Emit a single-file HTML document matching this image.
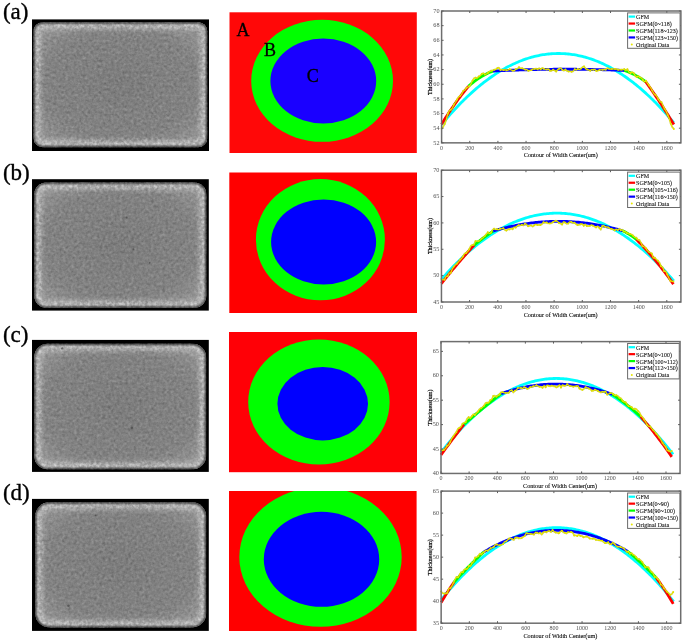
<!DOCTYPE html>
<html><head><meta charset="utf-8"><title>Figure</title>
<style>html,body{margin:0;padding:0;background:#fff;width:685px;height:643px;overflow:hidden}svg{display:block}</style>
</head><body>
<svg width="685" height="643" viewBox="0 0 685 643" font-family='"Liberation Serif", "Times New Roman", serif'>
<defs>
<radialGradient id="gfill" cx="0.5" cy="0.5" r="0.6">
<stop offset="0" stop-color="#7d7d7d"/><stop offset="0.75" stop-color="#858585"/><stop offset="1" stop-color="#979797"/>
</radialGradient>
<filter id="pblur" x="-2%" y="-2%" width="104%" height="104%" color-interpolation-filters="sRGB"><feGaussianBlur stdDeviation="0.35"/></filter>
<filter id="gsoft" x="-3%" y="-3%" width="106%" height="106%"><feGaussianBlur stdDeviation="0.6"/></filter>
<filter id="rimf0" x="-5%" y="-5%" width="110%" height="110%" color-interpolation-filters="sRGB"><feGaussianBlur in="SourceGraphic" stdDeviation="3" result="b"/><feTurbulence type="fractalNoise" baseFrequency="0.33" numOctaves="2" seed="21" result="n"/><feColorMatrix in="n" type="matrix" values="0 0 0 0 1  0 0 0 0 1  0 0 0 0 1  2.2 0 0 0 -0.75" result="nm"/><feComposite in="nm" in2="b" operator="in"/></filter>
<filter id="rimf1" x="-5%" y="-5%" width="110%" height="110%" color-interpolation-filters="sRGB"><feGaussianBlur in="SourceGraphic" stdDeviation="3" result="b"/><feTurbulence type="fractalNoise" baseFrequency="0.33" numOctaves="2" seed="33" result="n"/><feColorMatrix in="n" type="matrix" values="0 0 0 0 1  0 0 0 0 1  0 0 0 0 1  2.2 0 0 0 -0.75" result="nm"/><feComposite in="nm" in2="b" operator="in"/></filter>
<filter id="blur1" x="-5%" y="-5%" width="110%" height="110%"><feGaussianBlur stdDeviation="1.1"/></filter>
<filter id="soft" x="-5%" y="-5%" width="110%" height="110%"><feGaussianBlur stdDeviation="0.3"/></filter>
<filter id="blur3" x="-10%" y="-10%" width="120%" height="120%"><feGaussianBlur stdDeviation="2.6"/></filter>
<filter id="noise0" x="0" y="0" width="100%" height="100%" color-interpolation-filters="sRGB"><feTurbulence type="fractalNoise" baseFrequency="0.35" numOctaves="2" seed="4"/><feColorMatrix type="matrix" values="0.33 0.33 0.33 0 0  0.33 0.33 0.33 0 0  0.33 0.33 0.33 0 0  0 0 0 0 1"/><feComponentTransfer><feFuncR type="linear" slope="2.0" intercept="-0.5"/><feFuncG type="linear" slope="2.0" intercept="-0.5"/><feFuncB type="linear" slope="2.0" intercept="-0.5"/></feComponentTransfer><feGaussianBlur stdDeviation="0.3"/></filter>
<filter id="noise1" x="0" y="0" width="100%" height="100%" color-interpolation-filters="sRGB"><feTurbulence type="fractalNoise" baseFrequency="0.35" numOctaves="2" seed="9"/><feColorMatrix type="matrix" values="0.33 0.33 0.33 0 0  0.33 0.33 0.33 0 0  0.33 0.33 0.33 0 0  0 0 0 0 1"/><feComponentTransfer><feFuncR type="linear" slope="2.0" intercept="-0.5"/><feFuncG type="linear" slope="2.0" intercept="-0.5"/><feFuncB type="linear" slope="2.0" intercept="-0.5"/></feComponentTransfer><feGaussianBlur stdDeviation="0.3"/></filter>
</defs>
<rect width="685" height="643" fill="#fff"/>
<text x="2.9" y="19.00" font-size="23" stroke="#000" stroke-width="0.35">(a)</text>
<clipPath id="cp0"><rect x="33.60" y="22.20" width="173.60" height="125.00" rx="9.0"/></clipPath><rect x="32.00" y="19.40" width="177.00" height="131.60" fill="#000"/>
<g filter="url(#gsoft)"><g clip-path="url(#cp0)">
<rect x="33.60" y="22.20" width="173.60" height="125.00" fill="url(#gfill)"/>
<rect x="33.60" y="22.20" width="173.60" height="125.00" fill="#808080" filter="url(#noise0)" opacity="0.17"/>
<rect x="33.60" y="22.20" width="173.60" height="125.00" rx="9.0" fill="none" stroke="#c8c8c8" stroke-width="12" filter="url(#blur3)" opacity="0.45"/>
<rect x="33.60" y="22.20" width="173.60" height="125.00" rx="9.0" fill="none" stroke="#fff" stroke-width="14" filter="url(#rimf0)" opacity="0.6"/>
<rect x="33.60" y="22.20" width="173.60" height="125.00" rx="9.0" fill="none" stroke="#000" stroke-width="2.4" filter="url(#blur1)" opacity="0.8"/>
</g></g>
<g filter="url(#pblur)"><clipPath id="rca"><rect x="229.50" y="12.30" width="187.30" height="140.70"/></clipPath>
<rect x="229.50" y="12.30" width="187.30" height="140.70" fill="#ff0808"/>
<g clip-path="url(#rca)">
<ellipse cx="322.10" cy="80.80" rx="70.90" ry="61.00" fill="#00ff00"/>
<ellipse cx="323.30" cy="81.00" rx="52.90" ry="42.50" fill="#1a00ff"/>
</g></g>
<g filter="url(#pblur)"><polyline points="441.60,124.54 443.01,122.84 444.42,121.15 445.82,119.49 447.23,117.85 448.64,116.23 450.05,114.64 451.45,113.06 452.86,111.50 454.27,109.96 455.68,108.45 457.08,106.95 458.49,105.48 459.90,104.02 461.31,102.59 462.71,101.18 464.12,99.78 465.53,98.41 466.94,97.06 468.35,95.73 469.75,94.42 471.16,93.13 472.57,91.86 473.98,90.62 475.38,89.39 476.79,88.18 478.20,86.99 479.61,85.83 481.01,84.68 482.42,83.56 483.83,82.46 485.24,81.37 486.64,80.31 488.05,79.27 489.46,78.25 490.87,77.25 492.28,76.27 493.68,75.31 495.09,74.37 496.50,73.45 497.91,72.56 499.31,71.68 500.72,70.82 502.13,69.99 503.54,69.17 504.94,68.38 506.35,67.60 507.76,66.85 509.17,66.12 510.57,65.41 511.98,64.72 513.39,64.05 514.80,63.40 516.21,62.77 517.61,62.16 519.02,61.57 520.43,61.00 521.84,60.46 523.24,59.93 524.65,59.43 526.06,58.94 527.47,58.48 528.87,58.03 530.28,57.61 531.69,57.21 533.10,56.83 534.50,56.47 535.91,56.13 537.32,55.81 538.73,55.51 540.14,55.23 541.54,54.97 542.95,54.73 544.36,54.52 545.77,54.32 547.17,54.15 548.58,53.99 549.99,53.86 551.40,53.74 552.80,53.65 554.21,53.58 555.62,53.53 557.03,53.50 558.43,53.48 559.84,53.50 561.25,53.53 562.66,53.58 564.07,53.65 565.47,53.74 566.88,53.86 568.29,53.99 569.70,54.15 571.10,54.32 572.51,54.52 573.92,54.73 575.33,54.97 576.73,55.23 578.14,55.51 579.55,55.81 580.96,56.13 582.36,56.47 583.77,56.83 585.18,57.21 586.59,57.61 588.00,58.03 589.40,58.48 590.81,58.94 592.22,59.43 593.63,59.93 595.03,60.46 596.44,61.00 597.85,61.57 599.26,62.16 600.66,62.77 602.07,63.40 603.48,64.05 604.89,64.72 606.29,65.41 607.70,66.12 609.11,66.85 610.52,67.60 611.93,68.38 613.33,69.17 614.74,69.99 616.15,70.82 617.56,71.68 618.96,72.56 620.37,73.45 621.78,74.37 623.19,75.31 624.59,76.27 626.00,77.25 627.41,78.25 628.82,79.27 630.22,80.31 631.63,81.37 633.04,82.46 634.45,83.56 635.86,84.68 637.26,85.83 638.67,86.99 640.08,88.18 641.49,89.39 642.89,90.62 644.30,91.86 645.71,93.13 647.12,94.42 648.52,95.73 649.93,97.06 651.34,98.41 652.75,99.78 654.15,101.18 655.56,102.59 656.97,104.02 658.38,105.48 659.79,106.95 661.19,108.45 662.60,109.96 664.01,111.50 665.42,113.06 666.82,114.64 668.23,116.23 669.64,117.85 671.05,119.49 672.45,121.15 673.86,122.84" fill="none" stroke="#00ffff" stroke-width="2.8"/>
<polyline points="441.60,124.17 443.02,121.87 444.44,119.61 445.87,117.38 447.29,115.18 448.71,113.01 450.13,110.88 451.56,108.77 452.98,106.70 454.40,104.67 455.82,102.66 457.25,100.69 458.67,98.75 460.09,96.84 461.51,94.97 462.94,93.13 464.36,91.32 465.78,89.54 467.20,87.79 468.63,86.08" fill="none" stroke="#ff0000" stroke-width="2.8"/>
<polyline points="468.63,86.08 470.06,84.86 471.49,83.68 472.92,82.55 474.36,81.46 475.79,80.40 477.22,79.39 478.65,78.43 480.09,77.50 481.52,76.62 482.95,75.78 484.38,74.98 485.82,74.22 487.25,73.51 488.68,72.83 490.11,72.20 491.55,71.61 492.98,71.07" fill="none" stroke="#00ff00" stroke-width="2.8"/>
<polyline points="492.98,71.07 494.39,70.99 495.80,70.92 497.21,70.85 498.62,70.79 500.03,70.72 501.44,70.66 502.85,70.59 504.26,70.53 505.68,70.47 507.09,70.41 508.50,70.35 509.91,70.30 511.32,70.24 512.73,70.19 514.14,70.14 515.55,70.09 516.96,70.04 518.37,69.99 519.78,69.94 521.19,69.90 522.60,69.86 524.01,69.81 525.42,69.77 526.84,69.74 528.25,69.70 529.66,69.66 531.07,69.63 532.48,69.59 533.89,69.56 535.30,69.53 536.71,69.50 538.12,69.47 539.53,69.45 540.94,69.42 542.35,69.40 543.76,69.38 545.17,69.36 546.58,69.34 548.00,69.32 549.41,69.30 550.82,69.29 552.23,69.28 553.64,69.26 555.05,69.25 556.46,69.24 557.87,69.24 559.28,69.23 560.69,69.23 562.10,69.22 563.51,69.22 564.92,69.22 566.33,69.22 567.74,69.22 569.16,69.23 570.57,69.23 571.98,69.24 573.39,69.25 574.80,69.25 576.21,69.27 577.62,69.28 579.03,69.29 580.44,69.31 581.85,69.32 583.26,69.34 584.67,69.36 586.08,69.38 587.49,69.40 588.90,69.43 590.32,69.45 591.73,69.48 593.14,69.51 594.55,69.54 595.96,69.57 597.37,69.60 598.78,69.63 600.19,69.67 601.60,69.70 603.01,69.74 604.42,69.78 605.83,69.82 607.24,69.86 608.65,69.91 610.07,69.95 611.48,70.00 612.89,70.05 614.30,70.09 615.71,70.15 617.12,70.20 618.53,70.25 619.94,70.31 621.35,70.36 622.76,70.42 624.17,70.48" fill="none" stroke="#0000ff" stroke-width="2.8"/>
<polyline points="624.17,70.48 625.61,70.95 627.04,71.46 628.48,72.01 629.92,72.60 631.35,73.23 632.79,73.90 634.22,74.61 635.66,75.36 637.09,76.16 638.53,76.99 639.97,77.86 641.40,78.78 642.84,79.73 644.27,80.72 645.71,81.76" fill="none" stroke="#00ff00" stroke-width="2.8"/>
<polyline points="645.71,81.76 647.12,83.72 648.52,85.69 649.93,87.69 651.34,89.71 652.75,91.74 654.15,93.79 655.56,95.87 656.97,97.96 658.38,100.07 659.79,102.20 661.19,104.34 662.60,106.51 664.01,108.70 665.42,110.90 666.82,113.13 668.23,115.37 669.64,117.64 671.05,119.92 672.45,122.22 673.86,124.54" fill="none" stroke="#ff0000" stroke-width="2.8"/>
<polyline points="441.60,128.57 443.15,126.78 444.70,123.99 446.25,119.88 447.79,113.71 449.34,110.76 450.89,109.74 452.44,108.06 453.99,104.50 455.54,102.20 457.08,99.43 458.63,97.03 460.18,95.84 461.73,94.02 463.28,90.84 464.83,90.10 466.37,88.00 467.92,87.03 469.47,86.20 471.02,83.86 472.57,80.58 474.12,78.17 475.67,77.70 477.21,78.22 478.76,76.46 480.31,75.70 481.86,73.87 483.41,73.19 484.96,74.55 486.50,73.89 488.05,72.78 489.60,71.50 491.15,70.65 492.70,70.58 494.25,69.77 495.79,69.38 497.34,68.12 498.89,67.62 500.44,70.10 501.99,69.49 503.54,70.13 505.08,69.66 506.63,70.20 508.18,70.01 509.73,69.26 511.28,70.04 512.83,70.66 514.38,70.60 515.92,68.94 517.47,68.76 519.02,67.13 520.57,68.34 522.12,68.31 523.67,68.87 525.21,69.60 526.76,69.53 528.31,70.86 529.86,70.44 531.41,70.14 532.96,68.96 534.50,68.88 536.05,68.56 537.60,69.18 539.15,68.18 540.70,69.32 542.25,67.91 543.80,68.77 545.34,69.27 546.89,69.49 548.44,68.94 549.99,70.77 551.54,70.87 553.09,69.69 554.63,70.53 556.18,71.55 557.73,69.51 559.28,68.65 560.83,68.01 562.38,69.87 563.92,70.67 565.47,69.57 567.02,70.98 568.57,71.46 570.12,71.46 571.67,71.73 573.21,71.29 574.76,69.15 576.31,70.04 577.86,68.83 579.41,69.54 580.96,68.61 582.51,67.03 584.05,66.41 585.60,68.65 587.15,69.47 588.70,69.85 590.25,70.78 591.80,69.43 593.34,69.71 594.89,69.43 596.44,71.06 597.99,70.66 599.54,69.96 601.09,69.77 602.63,69.71 604.18,69.49 605.73,69.66 607.28,68.14 608.83,68.67 610.38,69.11 611.93,68.95 613.47,68.96 615.02,68.89 616.57,69.09 618.12,69.68 619.67,69.75 621.22,69.60 622.76,69.74 624.31,69.13 625.86,70.44 627.41,69.28 628.96,72.13 630.51,73.02 632.05,72.08 633.60,72.96 635.15,75.62 636.70,76.99 638.25,75.94 639.80,77.39 641.35,77.70 642.89,80.01 644.44,81.82 645.99,80.79 647.54,83.45 649.09,85.42 650.64,87.69 652.18,90.58 653.73,93.51 655.28,94.67 656.83,96.55 658.38,99.26 659.93,101.75 661.47,102.12 663.02,105.65 664.57,108.81 666.12,111.30 667.67,114.97 669.22,118.47 670.76,123.66 672.31,127.23 673.86,128.93" fill="none" stroke="#a0a000" stroke-width="1.8" stroke-linejoin="round" opacity="0.45"/>
<polyline points="441.60,128.57 443.15,126.78 444.70,123.99 446.25,119.88 447.79,113.71 449.34,110.76 450.89,109.74 452.44,108.06 453.99,104.50 455.54,102.20 457.08,99.43 458.63,97.03 460.18,95.84 461.73,94.02 463.28,90.84 464.83,90.10 466.37,88.00 467.92,87.03 469.47,86.20 471.02,83.86 472.57,80.58 474.12,78.17 475.67,77.70 477.21,78.22 478.76,76.46 480.31,75.70 481.86,73.87 483.41,73.19 484.96,74.55 486.50,73.89 488.05,72.78 489.60,71.50 491.15,70.65 492.70,70.58 494.25,69.77 495.79,69.38 497.34,68.12 498.89,67.62 500.44,70.10 501.99,69.49 503.54,70.13 505.08,69.66 506.63,70.20 508.18,70.01 509.73,69.26 511.28,70.04 512.83,70.66 514.38,70.60 515.92,68.94 517.47,68.76 519.02,67.13 520.57,68.34 522.12,68.31 523.67,68.87 525.21,69.60 526.76,69.53 528.31,70.86 529.86,70.44 531.41,70.14 532.96,68.96 534.50,68.88 536.05,68.56 537.60,69.18 539.15,68.18 540.70,69.32 542.25,67.91 543.80,68.77 545.34,69.27 546.89,69.49 548.44,68.94 549.99,70.77 551.54,70.87 553.09,69.69 554.63,70.53 556.18,71.55 557.73,69.51 559.28,68.65 560.83,68.01 562.38,69.87 563.92,70.67 565.47,69.57 567.02,70.98 568.57,71.46 570.12,71.46 571.67,71.73 573.21,71.29 574.76,69.15 576.31,70.04 577.86,68.83 579.41,69.54 580.96,68.61 582.51,67.03 584.05,66.41 585.60,68.65 587.15,69.47 588.70,69.85 590.25,70.78 591.80,69.43 593.34,69.71 594.89,69.43 596.44,71.06 597.99,70.66 599.54,69.96 601.09,69.77 602.63,69.71 604.18,69.49 605.73,69.66 607.28,68.14 608.83,68.67 610.38,69.11 611.93,68.95 613.47,68.96 615.02,68.89 616.57,69.09 618.12,69.68 619.67,69.75 621.22,69.60 622.76,69.74 624.31,69.13 625.86,70.44 627.41,69.28 628.96,72.13 630.51,73.02 632.05,72.08 633.60,72.96 635.15,75.62 636.70,76.99 638.25,75.94 639.80,77.39 641.35,77.70 642.89,80.01 644.44,81.82 645.99,80.79 647.54,83.45 649.09,85.42 650.64,87.69 652.18,90.58 653.73,93.51 655.28,94.67 656.83,96.55 658.38,99.26 659.93,101.75 661.47,102.12 663.02,105.65 664.57,108.81 666.12,111.30 667.67,114.97 669.22,118.47 670.76,123.66 672.31,127.23 673.86,128.93" fill="none" stroke="#e8e800" stroke-width="1.1" stroke-linejoin="round"/>
<path d="M441.60 128.57h0M444.70 123.99h0M447.79 113.71h0M450.89 109.74h0M453.99 104.50h0M457.08 99.43h0M460.18 95.84h0M463.28 90.84h0M466.37 88.00h0M469.47 86.20h0M472.57 80.58h0M475.67 77.70h0M478.76 76.46h0M481.86 73.87h0M484.96 74.55h0M488.05 72.78h0M491.15 70.65h0M494.25 69.77h0M497.34 68.12h0M500.44 70.10h0M503.54 70.13h0M506.63 70.20h0M509.73 69.26h0M512.83 70.66h0M515.92 68.94h0M519.02 67.13h0M522.12 68.31h0M525.21 69.60h0M528.31 70.86h0M531.41 70.14h0M534.50 68.88h0M537.60 69.18h0M540.70 69.32h0M543.80 68.77h0M546.89 69.49h0M549.99 70.77h0M553.09 69.69h0M556.18 71.55h0M559.28 68.65h0M562.38 69.87h0M565.47 69.57h0M568.57 71.46h0M571.67 71.73h0M574.76 69.15h0M577.86 68.83h0M580.96 68.61h0M584.05 66.41h0M587.15 69.47h0M590.25 70.78h0M593.34 69.71h0M596.44 71.06h0M599.54 69.96h0M602.63 69.71h0M605.73 69.66h0M608.83 68.67h0M611.93 68.95h0M615.02 68.89h0M618.12 69.68h0M621.22 69.60h0M624.31 69.13h0M627.41 69.28h0M630.51 73.02h0M633.60 72.96h0M636.70 76.99h0M639.80 77.39h0M642.89 80.01h0M645.99 80.79h0M649.09 85.42h0M652.18 90.58h0M655.28 94.67h0M658.38 99.26h0M661.47 102.12h0M664.57 108.81h0M667.67 114.97h0M670.76 123.66h0M673.86 128.93h0" stroke="#e0e000" stroke-width="1.9" stroke-linecap="round" fill="none"/>
<rect x="441.60" y="11.00" width="239.30" height="131.85" fill="none" stroke="#6e6e6e" stroke-width="1.5"/>
<text x="441.60" y="149.75" font-size="6" fill="#505050" text-anchor="middle">0</text>
<text x="469.75" y="149.75" font-size="6" fill="#505050" text-anchor="middle">200</text>
<text x="497.91" y="149.75" font-size="6" fill="#505050" text-anchor="middle">400</text>
<text x="526.06" y="149.75" font-size="6" fill="#505050" text-anchor="middle">600</text>
<text x="554.21" y="149.75" font-size="6" fill="#505050" text-anchor="middle">800</text>
<text x="582.36" y="149.75" font-size="6" fill="#505050" text-anchor="middle">1000</text>
<text x="610.52" y="149.75" font-size="6" fill="#505050" text-anchor="middle">1200</text>
<text x="638.67" y="149.75" font-size="6" fill="#505050" text-anchor="middle">1400</text>
<text x="666.82" y="149.75" font-size="6" fill="#505050" text-anchor="middle">1600</text>
<text x="439.50" y="144.55" font-size="6.2" fill="#505050" text-anchor="end">52</text>
<text x="439.50" y="129.90" font-size="6.2" fill="#505050" text-anchor="end">54</text>
<text x="439.50" y="115.25" font-size="6.2" fill="#505050" text-anchor="end">56</text>
<text x="439.50" y="100.60" font-size="6.2" fill="#505050" text-anchor="end">58</text>
<text x="439.50" y="85.95" font-size="6.2" fill="#505050" text-anchor="end">60</text>
<text x="439.50" y="71.30" font-size="6.2" fill="#505050" text-anchor="end">62</text>
<text x="439.50" y="56.65" font-size="6.2" fill="#505050" text-anchor="end">64</text>
<text x="439.50" y="42.00" font-size="6.2" fill="#505050" text-anchor="end">66</text>
<text x="439.50" y="27.35" font-size="6.2" fill="#505050" text-anchor="end">68</text>
<text x="439.50" y="12.70" font-size="6.2" fill="#505050" text-anchor="end">70</text>
<path d="M441.60 142.85v-2M441.60 11.00v2M469.75 142.85v-2M469.75 11.00v2M497.91 142.85v-2M497.91 11.00v2M526.06 142.85v-2M526.06 11.00v2M554.21 142.85v-2M554.21 11.00v2M582.36 142.85v-2M582.36 11.00v2M610.52 142.85v-2M610.52 11.00v2M638.67 142.85v-2M638.67 11.00v2M666.82 142.85v-2M666.82 11.00v2M441.60 142.85h2M680.90 142.85h-2M441.60 128.20h2M680.90 128.20h-2M441.60 113.55h2M680.90 113.55h-2M441.60 98.90h2M680.90 98.90h-2M441.60 84.25h2M680.90 84.25h-2M441.60 69.60h2M680.90 69.60h-2M441.60 54.95h2M680.90 54.95h-2M441.60 40.30h2M680.90 40.30h-2M441.60 25.65h2M680.90 25.65h-2M441.60 11.00h2M680.90 11.00h-2" stroke="#5e5e5e" stroke-width="1" fill="none"/>
<text x="560.75" y="157.45" font-size="7" stroke="#222" stroke-width="0.12" text-anchor="middle" textLength="74" lengthAdjust="spacingAndGlyphs">Contour of Width Center(um)</text>
<text transform="translate(431.70 76.92) rotate(-90)" font-size="6.4" stroke="#000" stroke-width="0.2" text-anchor="middle" textLength="36" lengthAdjust="spacingAndGlyphs">Thickness(um)</text>
<rect x="627.60" y="12.90" width="52.50" height="35.40" fill="#fff" stroke="#6a6a6a" stroke-width="1"/>
<line x1="628.60" y1="16.60" x2="635.10" y2="16.60" stroke="#00ffff" stroke-width="2.2"/>
<text x="636.10" y="19.00" font-size="6.8" fill="#1a1a1a" stroke="#1a1a1a" stroke-width="0.12" textLength="13.10" lengthAdjust="spacingAndGlyphs">GFM</text>
<line x1="628.60" y1="23.55" x2="635.10" y2="23.55" stroke="#ff0000" stroke-width="2.2"/>
<text x="636.10" y="25.95" font-size="6.8" fill="#1a1a1a" stroke="#1a1a1a" stroke-width="0.12" textLength="35.63" lengthAdjust="spacingAndGlyphs">SGFM(0~118)</text>
<line x1="628.60" y1="30.50" x2="635.10" y2="30.50" stroke="#00ff00" stroke-width="2.2"/>
<text x="636.10" y="32.90" font-size="6.8" fill="#1a1a1a" stroke="#1a1a1a" stroke-width="0.12" textLength="41.67" lengthAdjust="spacingAndGlyphs">SGFM(118~123)</text>
<line x1="628.60" y1="37.45" x2="635.10" y2="37.45" stroke="#0000ff" stroke-width="2.2"/>
<text x="636.10" y="39.85" font-size="6.8" fill="#1a1a1a" stroke="#1a1a1a" stroke-width="0.12" textLength="41.90" lengthAdjust="spacingAndGlyphs">SGFM(123~150)</text>
<circle cx="631.80" cy="44.40" r="1" fill="#e8e800"/>
<text x="636.10" y="46.80" font-size="6.8" fill="#1a1a1a" stroke="#1a1a1a" stroke-width="0.12" textLength="33.07" lengthAdjust="spacingAndGlyphs">Original Data</text></g>
<text x="2.9" y="179.50" font-size="23" stroke="#000" stroke-width="0.35">(b)</text>
<clipPath id="cp1"><rect x="34.30" y="182.60" width="172.00" height="125.20" rx="12.0"/></clipPath><rect x="32.00" y="179.20" width="176.80" height="131.40" fill="#000"/>
<g filter="url(#gsoft)"><g clip-path="url(#cp1)">
<rect x="34.30" y="182.60" width="172.00" height="125.20" fill="url(#gfill)"/>
<rect x="34.30" y="182.60" width="172.00" height="125.20" fill="#808080" filter="url(#noise1)" opacity="0.17"/>
<rect x="34.30" y="182.60" width="172.00" height="125.20" rx="12.0" fill="none" stroke="#c8c8c8" stroke-width="12" filter="url(#blur3)" opacity="0.45"/>
<rect x="34.30" y="182.60" width="172.00" height="125.20" rx="12.0" fill="none" stroke="#fff" stroke-width="14" filter="url(#rimf1)" opacity="0.6"/>
<rect x="34.30" y="182.60" width="172.00" height="125.20" rx="12.0" fill="none" stroke="#000" stroke-width="2.4" filter="url(#blur1)" opacity="0.8"/>
</g></g>
<g filter="url(#pblur)"><clipPath id="rcb"><rect x="229.30" y="172.50" width="187.70" height="140.50"/></clipPath>
<rect x="229.30" y="172.50" width="187.70" height="140.50" fill="#ff0000"/>
<g clip-path="url(#rcb)">
<ellipse cx="320.40" cy="239.70" rx="64.50" ry="60.60" fill="#00ff00"/>
<ellipse cx="323.60" cy="241.90" rx="52.50" ry="42.50" fill="#0000ff"/>
</g></g>
<g filter="url(#pblur)"><polyline points="441.45,279.33 442.86,277.73 444.27,276.14 445.68,274.58 447.08,273.03 448.49,271.51 449.90,270.00 451.31,268.52 452.72,267.05 454.13,265.60 455.54,264.18 456.94,262.77 458.35,261.38 459.76,260.01 461.17,258.67 462.58,257.34 463.99,256.03 465.39,254.74 466.80,253.47 468.21,252.22 469.62,250.99 471.03,249.78 472.44,248.59 473.85,247.42 475.25,246.27 476.66,245.14 478.07,244.02 479.48,242.93 480.89,241.86 482.30,240.81 483.71,239.77 485.11,238.76 486.52,237.77 487.93,236.79 489.34,235.84 490.75,234.90 492.16,233.99 493.57,233.09 494.97,232.22 496.38,231.36 497.79,230.52 499.20,229.71 500.61,228.91 502.02,228.13 503.43,227.38 504.83,226.64 506.24,225.92 507.65,225.22 509.06,224.54 510.47,223.88 511.88,223.24 513.28,222.62 514.69,222.02 516.10,221.44 517.51,220.88 518.92,220.34 520.33,219.82 521.74,219.32 523.14,218.83 524.55,218.37 525.96,217.93 527.37,217.51 528.78,217.10 530.19,216.72 531.60,216.35 533.00,216.01 534.41,215.69 535.82,215.38 537.23,215.10 538.64,214.83 540.05,214.58 541.46,214.36 542.86,214.15 544.27,213.96 545.68,213.80 547.09,213.65 548.50,213.52 549.91,213.41 551.32,213.32 552.72,213.26 554.13,213.21 555.54,213.18 556.95,213.17 558.36,213.18 559.77,213.21 561.17,213.26 562.58,213.32 563.99,213.41 565.40,213.52 566.81,213.65 568.22,213.80 569.63,213.96 571.03,214.15 572.44,214.36 573.85,214.58 575.26,214.83 576.67,215.10 578.08,215.38 579.49,215.69 580.89,216.01 582.30,216.35 583.71,216.72 585.12,217.10 586.53,217.51 587.94,217.93 589.35,218.37 590.75,218.83 592.16,219.32 593.57,219.82 594.98,220.34 596.39,220.88 597.80,221.44 599.21,222.02 600.61,222.62 602.02,223.24 603.43,223.88 604.84,224.54 606.25,225.22 607.66,225.92 609.06,226.64 610.47,227.38 611.88,228.13 613.29,228.91 614.70,229.71 616.11,230.52 617.52,231.36 618.92,232.22 620.33,233.09 621.74,233.99 623.15,234.90 624.56,235.84 625.97,236.79 627.38,237.77 628.78,238.76 630.19,239.77 631.60,240.81 633.01,241.86 634.42,242.93 635.83,244.02 637.24,245.14 638.64,246.27 640.05,247.42 641.46,248.59 642.87,249.78 644.28,250.99 645.69,252.22 647.10,253.47 648.50,254.74 649.91,256.03 651.32,257.34 652.73,258.67 654.14,260.01 655.55,261.38 656.95,262.77 658.36,264.18 659.77,265.60 661.18,267.05 662.59,268.52 664.00,270.00 665.41,271.51 666.81,273.03 668.22,274.58 669.63,276.14 671.04,277.73 672.45,279.33 673.86,280.95" fill="none" stroke="#00ffff" stroke-width="2.8"/>
<polyline points="441.45,283.55 442.88,281.75 444.30,279.96 445.73,278.18 447.16,276.41 448.58,274.65 450.01,272.91 451.44,271.18 452.87,269.46 454.29,267.75 455.72,266.05 457.15,264.37 458.57,262.69 460.00,261.03 461.43,259.38 462.85,257.75 464.28,256.12 465.71,254.50 467.13,252.90 468.56,251.31 469.99,249.73 471.41,248.16 472.84,246.61 474.27,245.06" fill="none" stroke="#ff0000" stroke-width="2.8"/>
<polyline points="474.27,245.06 475.72,243.88 477.17,242.71 478.62,241.56 480.08,240.43 481.53,239.31 482.98,238.22 484.43,237.15 485.88,236.09 487.34,235.05 488.79,234.03 490.24,233.04 491.69,232.05 493.14,231.09" fill="none" stroke="#00ff00" stroke-width="2.8"/>
<polyline points="493.14,231.09 494.57,230.67 495.99,230.26 497.41,229.86 498.83,229.46 500.26,229.08 501.68,228.70 503.10,228.34 504.52,227.98 505.95,227.64 507.37,227.30 508.79,226.97 510.21,226.65 511.64,226.34 513.06,226.04 514.48,225.75 515.90,225.47 517.32,225.20 518.75,224.93 520.17,224.68 521.59,224.43 523.01,224.20 524.44,223.97 525.86,223.76 527.28,223.55 528.70,223.35 530.13,223.16 531.55,222.98 532.97,222.81 534.39,222.65 535.82,222.50 537.24,222.36 538.66,222.22 540.08,222.10 541.51,221.99 542.93,221.88 544.35,221.79 545.77,221.70 547.20,221.62 548.62,221.55 550.04,221.50 551.46,221.45 552.89,221.41 554.31,221.38 555.73,221.35 557.15,221.34 558.58,221.34 560.00,221.34 561.42,221.36 562.84,221.39 564.27,221.42 565.69,221.46 567.11,221.52 568.53,221.58 569.96,221.65 571.38,221.73 572.80,221.82 574.22,221.92 575.65,222.03 577.07,222.15 578.49,222.27 579.91,222.41 581.34,222.56 582.76,222.71 584.18,222.88 585.60,223.05 587.03,223.23 588.45,223.42 589.87,223.63 591.29,223.84 592.72,224.06 594.14,224.29 595.56,224.53 596.98,224.77 598.41,225.03 599.83,225.30 601.25,225.57 602.67,225.86 604.09,226.15 605.52,226.46 606.94,226.77 608.36,227.09 609.78,227.42 611.21,227.77 612.63,228.12 614.05,228.48 615.47,228.84 616.90,229.22 618.32,229.61 619.74,230.01 621.16,230.41 622.59,230.83" fill="none" stroke="#0000ff" stroke-width="2.8"/>
<polyline points="622.59,230.83 624.14,231.55 625.69,232.34 627.24,233.18 628.78,234.09 630.33,235.05 631.88,236.08 633.43,237.17 634.98,238.32 636.53,239.53" fill="none" stroke="#00ff00" stroke-width="2.8"/>
<polyline points="636.53,239.53 637.95,240.96 639.37,242.42 640.79,243.90 642.21,245.41 643.63,246.93 645.05,248.48 646.47,250.05 647.89,251.64 649.31,253.26 650.72,254.89 652.14,256.55 653.56,258.23 654.98,259.93 656.40,261.66 657.82,263.40 659.24,265.17 660.66,266.96 662.08,268.78 663.50,270.61 664.92,272.47 666.34,274.35 667.76,276.25 669.18,278.17 670.60,280.12 672.02,282.09 673.43,284.08" fill="none" stroke="#ff0000" stroke-width="2.8"/>
<polyline points="441.45,279.33 443.00,279.71 444.54,279.68 446.09,276.36 447.64,276.21 449.18,273.08 450.73,272.87 452.28,268.94 453.82,266.58 455.37,264.84 456.92,263.65 458.46,261.97 460.01,259.80 461.56,258.52 463.10,256.36 464.65,253.54 466.20,252.96 467.74,251.51 469.29,249.27 470.83,245.75 472.38,245.10 473.93,244.87 475.47,241.08 477.02,241.24 478.57,241.09 480.11,240.39 481.66,238.61 483.21,237.66 484.75,235.99 486.30,234.12 487.85,232.31 489.39,233.63 490.94,232.73 492.49,229.91 494.03,228.62 495.58,229.44 497.13,229.20 498.67,229.81 500.22,228.82 501.77,228.82 503.31,228.16 504.86,229.99 506.41,230.61 507.95,229.26 509.50,229.39 511.05,228.36 512.59,229.18 514.14,227.16 515.69,227.53 517.23,225.80 518.78,225.20 520.32,225.44 521.87,224.80 523.42,225.50 524.96,223.82 526.51,224.27 528.06,226.18 529.60,225.82 531.15,225.34 532.70,226.58 534.24,225.26 535.79,224.27 537.34,225.01 538.88,224.74 540.43,225.00 541.98,224.14 543.52,222.24 545.07,222.66 546.62,222.52 548.16,223.44 549.71,223.41 551.26,223.30 552.80,222.31 554.35,221.13 555.90,220.77 557.44,221.26 558.99,223.04 560.54,223.47 562.08,224.49 563.63,221.81 565.18,222.60 566.72,223.81 568.27,223.45 569.81,221.75 571.36,222.01 572.91,222.93 574.45,222.61 576.00,224.14 577.55,224.96 579.09,224.83 580.64,224.29 582.19,223.90 583.73,225.71 585.28,224.25 586.83,226.05 588.37,226.10 589.92,225.69 591.47,224.92 593.01,225.64 594.56,226.61 596.11,227.42 597.65,226.19 599.20,227.63 600.75,229.73 602.29,226.07 603.84,225.64 605.39,226.97 606.93,227.00 608.48,227.52 610.03,228.51 611.57,228.98 613.12,229.48 614.67,230.38 616.21,229.10 617.76,230.10 619.31,228.63 620.85,230.19 622.40,229.69 623.94,231.60 625.49,231.60 627.04,233.13 628.58,233.73 630.13,234.07 631.68,234.54 633.22,235.81 634.77,237.46 636.32,237.68 637.86,239.88 639.41,240.25 640.96,242.70 642.50,245.91 644.05,246.68 645.60,247.88 647.14,250.37 648.69,251.63 650.24,252.81 651.78,253.54 653.33,258.00 654.88,257.76 656.42,259.61 657.97,260.77 659.52,262.70 661.06,266.24 662.61,267.23 664.16,271.14 665.70,271.35 667.25,274.44 668.80,277.99 670.34,280.74 671.89,281.33 673.43,281.44" fill="none" stroke="#a0a000" stroke-width="1.8" stroke-linejoin="round" opacity="0.45"/>
<polyline points="441.45,279.33 443.00,279.71 444.54,279.68 446.09,276.36 447.64,276.21 449.18,273.08 450.73,272.87 452.28,268.94 453.82,266.58 455.37,264.84 456.92,263.65 458.46,261.97 460.01,259.80 461.56,258.52 463.10,256.36 464.65,253.54 466.20,252.96 467.74,251.51 469.29,249.27 470.83,245.75 472.38,245.10 473.93,244.87 475.47,241.08 477.02,241.24 478.57,241.09 480.11,240.39 481.66,238.61 483.21,237.66 484.75,235.99 486.30,234.12 487.85,232.31 489.39,233.63 490.94,232.73 492.49,229.91 494.03,228.62 495.58,229.44 497.13,229.20 498.67,229.81 500.22,228.82 501.77,228.82 503.31,228.16 504.86,229.99 506.41,230.61 507.95,229.26 509.50,229.39 511.05,228.36 512.59,229.18 514.14,227.16 515.69,227.53 517.23,225.80 518.78,225.20 520.32,225.44 521.87,224.80 523.42,225.50 524.96,223.82 526.51,224.27 528.06,226.18 529.60,225.82 531.15,225.34 532.70,226.58 534.24,225.26 535.79,224.27 537.34,225.01 538.88,224.74 540.43,225.00 541.98,224.14 543.52,222.24 545.07,222.66 546.62,222.52 548.16,223.44 549.71,223.41 551.26,223.30 552.80,222.31 554.35,221.13 555.90,220.77 557.44,221.26 558.99,223.04 560.54,223.47 562.08,224.49 563.63,221.81 565.18,222.60 566.72,223.81 568.27,223.45 569.81,221.75 571.36,222.01 572.91,222.93 574.45,222.61 576.00,224.14 577.55,224.96 579.09,224.83 580.64,224.29 582.19,223.90 583.73,225.71 585.28,224.25 586.83,226.05 588.37,226.10 589.92,225.69 591.47,224.92 593.01,225.64 594.56,226.61 596.11,227.42 597.65,226.19 599.20,227.63 600.75,229.73 602.29,226.07 603.84,225.64 605.39,226.97 606.93,227.00 608.48,227.52 610.03,228.51 611.57,228.98 613.12,229.48 614.67,230.38 616.21,229.10 617.76,230.10 619.31,228.63 620.85,230.19 622.40,229.69 623.94,231.60 625.49,231.60 627.04,233.13 628.58,233.73 630.13,234.07 631.68,234.54 633.22,235.81 634.77,237.46 636.32,237.68 637.86,239.88 639.41,240.25 640.96,242.70 642.50,245.91 644.05,246.68 645.60,247.88 647.14,250.37 648.69,251.63 650.24,252.81 651.78,253.54 653.33,258.00 654.88,257.76 656.42,259.61 657.97,260.77 659.52,262.70 661.06,266.24 662.61,267.23 664.16,271.14 665.70,271.35 667.25,274.44 668.80,277.99 670.34,280.74 671.89,281.33 673.43,281.44" fill="none" stroke="#e8e800" stroke-width="1.1" stroke-linejoin="round"/>
<path d="M441.45 279.33h0M444.54 279.68h0M447.64 276.21h0M450.73 272.87h0M453.82 266.58h0M456.92 263.65h0M460.01 259.80h0M463.10 256.36h0M466.20 252.96h0M469.29 249.27h0M472.38 245.10h0M475.47 241.08h0M478.57 241.09h0M481.66 238.61h0M484.75 235.99h0M487.85 232.31h0M490.94 232.73h0M494.03 228.62h0M497.13 229.20h0M500.22 228.82h0M503.31 228.16h0M506.41 230.61h0M509.50 229.39h0M512.59 229.18h0M515.69 227.53h0M518.78 225.20h0M521.87 224.80h0M524.96 223.82h0M528.06 226.18h0M531.15 225.34h0M534.24 225.26h0M537.34 225.01h0M540.43 225.00h0M543.52 222.24h0M546.62 222.52h0M549.71 223.41h0M552.80 222.31h0M555.90 220.77h0M558.99 223.04h0M562.08 224.49h0M565.18 222.60h0M568.27 223.45h0M571.36 222.01h0M574.45 222.61h0M577.55 224.96h0M580.64 224.29h0M583.73 225.71h0M586.83 226.05h0M589.92 225.69h0M593.01 225.64h0M596.11 227.42h0M599.20 227.63h0M602.29 226.07h0M605.39 226.97h0M608.48 227.52h0M611.57 228.98h0M614.67 230.38h0M617.76 230.10h0M620.85 230.19h0M623.94 231.60h0M627.04 233.13h0M630.13 234.07h0M633.22 235.81h0M636.32 237.68h0M639.41 240.25h0M642.50 245.91h0M645.60 247.88h0M648.69 251.63h0M651.78 253.54h0M654.88 257.76h0M657.97 260.77h0M661.06 266.24h0M664.16 271.14h0M667.25 274.44h0M670.34 280.74h0M673.43 281.44h0" stroke="#e0e000" stroke-width="1.9" stroke-linecap="round" fill="none"/>
<rect x="441.45" y="170.20" width="239.45" height="131.80" fill="none" stroke="#6e6e6e" stroke-width="1.5"/>
<text x="441.45" y="308.90" font-size="6" fill="#505050" text-anchor="middle">0</text>
<text x="469.62" y="308.90" font-size="6" fill="#505050" text-anchor="middle">200</text>
<text x="497.79" y="308.90" font-size="6" fill="#505050" text-anchor="middle">400</text>
<text x="525.96" y="308.90" font-size="6" fill="#505050" text-anchor="middle">600</text>
<text x="554.13" y="308.90" font-size="6" fill="#505050" text-anchor="middle">800</text>
<text x="582.30" y="308.90" font-size="6" fill="#505050" text-anchor="middle">1000</text>
<text x="610.47" y="308.90" font-size="6" fill="#505050" text-anchor="middle">1200</text>
<text x="638.64" y="308.90" font-size="6" fill="#505050" text-anchor="middle">1400</text>
<text x="666.81" y="308.90" font-size="6" fill="#505050" text-anchor="middle">1600</text>
<text x="439.35" y="303.70" font-size="6.2" fill="#505050" text-anchor="end">45</text>
<text x="439.35" y="277.34" font-size="6.2" fill="#505050" text-anchor="end">50</text>
<text x="439.35" y="250.98" font-size="6.2" fill="#505050" text-anchor="end">55</text>
<text x="439.35" y="224.62" font-size="6.2" fill="#505050" text-anchor="end">60</text>
<text x="439.35" y="198.26" font-size="6.2" fill="#505050" text-anchor="end">65</text>
<text x="439.35" y="171.90" font-size="6.2" fill="#505050" text-anchor="end">70</text>
<path d="M441.45 302.00v-2M441.45 170.20v2M469.62 302.00v-2M469.62 170.20v2M497.79 302.00v-2M497.79 170.20v2M525.96 302.00v-2M525.96 170.20v2M554.13 302.00v-2M554.13 170.20v2M582.30 302.00v-2M582.30 170.20v2M610.47 302.00v-2M610.47 170.20v2M638.64 302.00v-2M638.64 170.20v2M666.81 302.00v-2M666.81 170.20v2M441.45 302.00h2M680.90 302.00h-2M441.45 275.64h2M680.90 275.64h-2M441.45 249.28h2M680.90 249.28h-2M441.45 222.92h2M680.90 222.92h-2M441.45 196.56h2M680.90 196.56h-2M441.45 170.20h2M680.90 170.20h-2" stroke="#5e5e5e" stroke-width="1" fill="none"/>
<text x="560.67" y="316.60" font-size="7" stroke="#222" stroke-width="0.12" text-anchor="middle" textLength="74" lengthAdjust="spacingAndGlyphs">Contour of Width Center(um)</text>
<text transform="translate(431.70 236.10) rotate(-90)" font-size="6.4" stroke="#000" stroke-width="0.2" text-anchor="middle" textLength="36" lengthAdjust="spacingAndGlyphs">Thickness(um)</text>
<rect x="627.60" y="172.10" width="52.50" height="35.40" fill="#fff" stroke="#6a6a6a" stroke-width="1"/>
<line x1="628.60" y1="175.80" x2="635.10" y2="175.80" stroke="#00ffff" stroke-width="2.2"/>
<text x="636.10" y="178.20" font-size="6.8" fill="#1a1a1a" stroke="#1a1a1a" stroke-width="0.12" textLength="13.10" lengthAdjust="spacingAndGlyphs">GFM</text>
<line x1="628.60" y1="182.75" x2="635.10" y2="182.75" stroke="#ff0000" stroke-width="2.2"/>
<text x="636.10" y="185.15" font-size="6.8" fill="#1a1a1a" stroke="#1a1a1a" stroke-width="0.12" textLength="35.85" lengthAdjust="spacingAndGlyphs">SGFM(0~105)</text>
<line x1="628.60" y1="189.70" x2="635.10" y2="189.70" stroke="#00ff00" stroke-width="2.2"/>
<text x="636.10" y="192.10" font-size="6.8" fill="#1a1a1a" stroke="#1a1a1a" stroke-width="0.12" textLength="41.67" lengthAdjust="spacingAndGlyphs">SGFM(105~116)</text>
<line x1="628.60" y1="196.65" x2="635.10" y2="196.65" stroke="#0000ff" stroke-width="2.2"/>
<text x="636.10" y="199.05" font-size="6.8" fill="#1a1a1a" stroke="#1a1a1a" stroke-width="0.12" textLength="41.67" lengthAdjust="spacingAndGlyphs">SGFM(116~150)</text>
<circle cx="631.80" cy="203.60" r="1" fill="#e8e800"/>
<text x="636.10" y="206.00" font-size="6.8" fill="#1a1a1a" stroke="#1a1a1a" stroke-width="0.12" textLength="33.07" lengthAdjust="spacingAndGlyphs">Original Data</text></g>
<text x="2.9" y="341.50" font-size="23" stroke="#000" stroke-width="0.35">(c)</text>
<clipPath id="cp2"><rect x="34.20" y="343.80" width="171.90" height="125.40" rx="13.5"/></clipPath><rect x="32.00" y="339.90" width="176.80" height="132.00" fill="#000"/>
<g filter="url(#gsoft)"><g clip-path="url(#cp2)">
<rect x="34.20" y="343.80" width="171.90" height="125.40" fill="url(#gfill)"/>
<rect x="34.20" y="343.80" width="171.90" height="125.40" fill="#808080" filter="url(#noise0)" opacity="0.17"/>
<rect x="34.20" y="343.80" width="171.90" height="125.40" rx="13.5" fill="none" stroke="#c8c8c8" stroke-width="12" filter="url(#blur3)" opacity="0.45"/>
<rect x="34.20" y="343.80" width="171.90" height="125.40" rx="13.5" fill="none" stroke="#fff" stroke-width="14" filter="url(#rimf0)" opacity="0.6"/>
<rect x="34.20" y="343.80" width="171.90" height="125.40" rx="13.5" fill="none" stroke="#000" stroke-width="2.4" filter="url(#blur1)" opacity="0.8"/>
</g></g>
<g filter="url(#pblur)"><clipPath id="rcc"><rect x="229.00" y="332.00" width="188.00" height="140.20"/></clipPath>
<rect x="229.00" y="332.00" width="188.00" height="140.20" fill="#ff0006"/>
<g clip-path="url(#rcc)">
<ellipse cx="318.90" cy="402.00" rx="70.70" ry="62.50" fill="#00ff00"/>
<ellipse cx="322.70" cy="403.70" rx="45.30" ry="36.70" fill="#0000ff"/>
</g></g>
<g filter="url(#pblur)"><polyline points="441.00,452.45 442.41,450.66 443.81,448.89 445.22,447.14 446.62,445.41 448.03,443.70 449.44,442.02 450.84,440.36 452.25,438.72 453.66,437.10 455.06,435.51 456.47,433.93 457.87,432.38 459.28,430.85 460.69,429.35 462.09,427.86 463.50,426.40 464.90,424.96 466.31,423.54 467.72,422.14 469.12,420.76 470.53,419.41 471.94,418.08 473.34,416.77 474.75,415.48 476.15,414.22 477.56,412.97 478.97,411.75 480.37,410.55 481.78,409.38 483.19,408.22 484.59,407.09 486.00,405.98 487.40,404.89 488.81,403.82 490.22,402.77 491.62,401.75 493.03,400.75 494.43,399.77 495.84,398.81 497.25,397.88 498.65,396.96 500.06,396.07 501.47,395.20 502.87,394.36 504.28,393.53 505.68,392.73 507.09,391.95 508.50,391.19 509.90,390.45 511.31,389.74 512.72,389.04 514.12,388.37 515.53,387.72 516.93,387.10 518.34,386.49 519.75,385.91 521.15,385.35 522.56,384.81 523.96,384.29 525.37,383.79 526.78,383.32 528.18,382.87 529.59,382.44 531.00,382.03 532.40,381.65 533.81,381.29 535.21,380.94 536.62,380.63 538.03,380.33 539.43,380.05 540.84,379.80 542.24,379.57 543.65,379.36 545.06,379.17 546.46,379.01 547.87,378.87 549.28,378.74 550.68,378.65 552.09,378.57 553.49,378.51 554.90,378.48 556.31,378.47 557.71,378.48 559.12,378.51 560.52,378.57 561.93,378.65 563.34,378.74 564.74,378.87 566.15,379.01 567.56,379.17 568.96,379.36 570.37,379.57 571.77,379.80 573.18,380.05 574.59,380.33 575.99,380.63 577.40,380.94 578.81,381.29 580.21,381.65 581.62,382.03 583.02,382.44 584.43,382.87 585.84,383.32 587.24,383.79 588.65,384.29 590.05,384.81 591.46,385.35 592.87,385.91 594.27,386.49 595.68,387.10 597.09,387.72 598.49,388.37 599.90,389.04 601.30,389.74 602.71,390.45 604.12,391.19 605.52,391.95 606.93,392.73 608.34,393.53 609.74,394.36 611.15,395.20 612.55,396.07 613.96,396.96 615.37,397.88 616.77,398.81 618.18,399.77 619.58,400.75 620.99,401.75 622.40,402.77 623.80,403.82 625.21,404.89 626.62,405.98 628.02,407.09 629.43,408.22 630.83,409.38 632.24,410.55 633.65,411.75 635.05,412.97 636.46,414.22 637.86,415.48 639.27,416.77 640.68,418.08 642.08,419.41 643.49,420.76 644.90,422.14 646.30,423.54 647.71,424.96 649.11,426.40 650.52,427.86 651.93,429.35 653.33,430.85 654.74,432.38 656.14,433.93 657.55,435.51 658.96,437.10 660.36,438.72 661.77,440.36 663.18,442.02 664.58,443.70 665.99,445.41 667.39,447.14 668.80,448.89 670.21,450.66 671.61,452.45 673.02,454.27" fill="none" stroke="#00ffff" stroke-width="2.8"/>
<polyline points="441.00,454.89 442.44,452.90 443.88,450.92 445.32,448.95 446.77,446.99 448.21,445.05 449.65,443.11 451.09,441.18 452.53,439.27 453.97,437.36 455.41,435.47 456.85,433.58 458.30,431.71 459.74,429.85 461.18,428.00 462.62,426.15 464.06,424.32" fill="none" stroke="#ff0000" stroke-width="2.8"/>
<polyline points="464.06,424.32 465.49,423.06 466.93,421.81 468.36,420.56 469.79,419.32 471.23,418.08 472.66,416.85 474.09,415.63 475.53,414.41 476.96,413.20 478.39,412.00 479.83,410.80 481.26,409.61 482.69,408.42 484.13,407.24 485.56,406.07 486.99,404.90 488.43,403.74 489.86,402.58 491.29,401.43 492.73,400.29 494.16,399.15 495.59,398.02 497.03,396.90 498.46,395.78 499.89,394.66 501.32,393.56" fill="none" stroke="#00ff00" stroke-width="2.8"/>
<polyline points="501.32,393.56 502.75,393.07 504.17,392.59 505.59,392.13 507.01,391.68 508.44,391.24 509.86,390.82 511.28,390.40 512.70,390.01 514.13,389.62 515.55,389.25 516.97,388.89 518.39,388.54 519.82,388.21 521.24,387.89 522.66,387.58 524.08,387.28 525.51,387.00 526.93,386.73 528.35,386.48 529.77,386.23 531.20,386.00 532.62,385.79 534.04,385.58 535.46,385.39 536.89,385.21 538.31,385.05 539.73,384.90 541.15,384.76 542.57,384.63 544.00,384.52 545.42,384.42 546.84,384.33 548.26,384.26 549.69,384.20 551.11,384.15 552.53,384.11 553.95,384.09 555.38,384.08 556.80,384.08 558.22,384.10 559.64,384.13 561.07,384.17 562.49,384.23 563.91,384.30 565.33,384.38 566.76,384.47 568.18,384.58 569.60,384.70 571.02,384.83 572.45,384.98 573.87,385.14 575.29,385.31 576.71,385.49 578.13,385.69 579.56,385.90 580.98,386.13 582.40,386.37 583.82,386.62 585.25,386.88 586.67,387.15 588.09,387.44 589.51,387.75 590.94,388.06 592.36,388.39 593.78,388.73 595.20,389.08 596.63,389.45 598.05,389.83 599.47,390.22 600.89,390.63 602.32,391.05 603.74,391.48 605.16,391.92 606.58,392.38 608.01,392.85 609.43,393.33 610.85,393.83 612.27,394.34" fill="none" stroke="#0000ff" stroke-width="2.8"/>
<polyline points="612.27,394.34 613.69,395.26 615.10,396.19 616.51,397.15 617.93,398.13 619.34,399.13 620.75,400.15 622.16,401.19 623.58,402.25 624.99,403.33 626.40,404.43 627.82,405.55 629.23,406.69 630.64,407.85 632.06,409.04 633.47,410.24 634.88,411.46 636.30,412.71 637.71,413.97 639.12,415.25 640.54,416.56" fill="none" stroke="#00ff00" stroke-width="2.8"/>
<polyline points="640.54,416.56 641.96,418.16 643.37,419.78 644.79,421.42 646.21,423.09 647.63,424.77 649.05,426.48 650.47,428.21 651.89,429.97 653.31,431.74 654.73,433.54 656.14,435.36 657.56,437.20 658.98,439.07 660.40,440.95 661.82,442.86 663.24,444.79 664.66,446.75 666.08,448.72 667.50,450.72 668.92,452.74 670.33,454.78 671.75,456.85" fill="none" stroke="#ff0000" stroke-width="2.8"/>
<polyline points="441.00,450.01 442.54,450.59 444.08,449.69 445.62,448.39 447.15,445.71 448.69,445.04 450.23,442.02 451.77,438.60 453.31,436.33 454.85,434.10 456.38,432.13 457.92,428.76 459.46,427.83 461.00,426.80 462.54,423.81 464.08,422.86 465.61,422.23 467.15,418.66 468.69,417.09 470.23,418.34 471.77,416.30 473.31,414.20 474.84,415.06 476.38,413.16 477.92,411.59 479.46,409.12 481.00,408.22 482.54,407.24 484.07,405.64 485.61,402.97 487.15,402.64 488.69,402.89 490.23,400.20 491.77,399.48 493.30,395.99 494.84,395.75 496.38,396.63 497.92,395.47 499.46,394.43 501.00,392.18 502.53,392.12 504.07,392.72 505.61,392.89 507.15,392.85 508.69,392.87 510.23,390.51 511.76,390.18 513.30,392.55 514.84,390.76 516.38,390.03 517.92,387.94 519.46,387.97 520.99,387.99 522.53,388.60 524.07,387.27 525.61,387.47 527.15,388.86 528.69,388.56 530.22,387.13 531.76,387.04 533.30,386.31 534.84,386.09 536.38,385.31 537.92,385.96 539.45,386.68 540.99,386.77 542.53,387.75 544.07,385.52 545.61,387.19 547.15,385.18 548.68,385.75 550.22,386.41 551.76,385.59 553.30,386.25 554.84,386.22 556.38,387.50 557.92,386.47 559.45,384.81 560.99,387.52 562.53,384.86 564.07,385.73 565.61,385.81 567.15,384.25 568.68,385.20 570.22,386.15 571.76,386.04 573.30,386.65 574.84,386.24 576.38,386.19 577.91,385.81 579.45,388.54 580.99,389.40 582.53,389.85 584.07,388.69 585.61,387.29 587.14,387.73 588.68,388.49 590.22,389.14 591.76,390.68 593.30,390.90 594.84,389.62 596.37,390.20 597.91,390.88 599.45,391.99 600.99,392.34 602.53,391.56 604.07,392.12 605.60,391.25 607.14,394.62 608.68,393.96 610.22,393.11 611.76,393.06 613.30,393.98 614.83,395.63 616.37,395.29 617.91,396.02 619.45,397.74 620.99,398.29 622.53,400.71 624.06,401.95 625.60,402.32 627.14,404.79 628.68,406.17 630.22,406.46 631.76,407.26 633.29,409.08 634.83,408.73 636.37,409.14 637.91,411.01 639.45,412.39 640.99,415.66 642.52,417.39 644.06,419.46 645.60,421.88 647.14,424.98 648.68,426.42 650.22,426.43 651.75,428.58 653.29,430.09 654.83,431.77 656.37,433.63 657.91,435.67 659.45,437.55 660.99,439.99 662.52,442.92 664.06,445.07 665.60,446.70 667.14,450.44 668.68,450.76 670.22,451.88 671.75,450.99" fill="none" stroke="#a0a000" stroke-width="1.8" stroke-linejoin="round" opacity="0.45"/>
<polyline points="441.00,450.01 442.54,450.59 444.08,449.69 445.62,448.39 447.15,445.71 448.69,445.04 450.23,442.02 451.77,438.60 453.31,436.33 454.85,434.10 456.38,432.13 457.92,428.76 459.46,427.83 461.00,426.80 462.54,423.81 464.08,422.86 465.61,422.23 467.15,418.66 468.69,417.09 470.23,418.34 471.77,416.30 473.31,414.20 474.84,415.06 476.38,413.16 477.92,411.59 479.46,409.12 481.00,408.22 482.54,407.24 484.07,405.64 485.61,402.97 487.15,402.64 488.69,402.89 490.23,400.20 491.77,399.48 493.30,395.99 494.84,395.75 496.38,396.63 497.92,395.47 499.46,394.43 501.00,392.18 502.53,392.12 504.07,392.72 505.61,392.89 507.15,392.85 508.69,392.87 510.23,390.51 511.76,390.18 513.30,392.55 514.84,390.76 516.38,390.03 517.92,387.94 519.46,387.97 520.99,387.99 522.53,388.60 524.07,387.27 525.61,387.47 527.15,388.86 528.69,388.56 530.22,387.13 531.76,387.04 533.30,386.31 534.84,386.09 536.38,385.31 537.92,385.96 539.45,386.68 540.99,386.77 542.53,387.75 544.07,385.52 545.61,387.19 547.15,385.18 548.68,385.75 550.22,386.41 551.76,385.59 553.30,386.25 554.84,386.22 556.38,387.50 557.92,386.47 559.45,384.81 560.99,387.52 562.53,384.86 564.07,385.73 565.61,385.81 567.15,384.25 568.68,385.20 570.22,386.15 571.76,386.04 573.30,386.65 574.84,386.24 576.38,386.19 577.91,385.81 579.45,388.54 580.99,389.40 582.53,389.85 584.07,388.69 585.61,387.29 587.14,387.73 588.68,388.49 590.22,389.14 591.76,390.68 593.30,390.90 594.84,389.62 596.37,390.20 597.91,390.88 599.45,391.99 600.99,392.34 602.53,391.56 604.07,392.12 605.60,391.25 607.14,394.62 608.68,393.96 610.22,393.11 611.76,393.06 613.30,393.98 614.83,395.63 616.37,395.29 617.91,396.02 619.45,397.74 620.99,398.29 622.53,400.71 624.06,401.95 625.60,402.32 627.14,404.79 628.68,406.17 630.22,406.46 631.76,407.26 633.29,409.08 634.83,408.73 636.37,409.14 637.91,411.01 639.45,412.39 640.99,415.66 642.52,417.39 644.06,419.46 645.60,421.88 647.14,424.98 648.68,426.42 650.22,426.43 651.75,428.58 653.29,430.09 654.83,431.77 656.37,433.63 657.91,435.67 659.45,437.55 660.99,439.99 662.52,442.92 664.06,445.07 665.60,446.70 667.14,450.44 668.68,450.76 670.22,451.88 671.75,450.99" fill="none" stroke="#e8e800" stroke-width="1.1" stroke-linejoin="round"/>
<path d="M441.00 450.01h0M444.08 449.69h0M447.15 445.71h0M450.23 442.02h0M453.31 436.33h0M456.38 432.13h0M459.46 427.83h0M462.54 423.81h0M465.61 422.23h0M468.69 417.09h0M471.77 416.30h0M474.84 415.06h0M477.92 411.59h0M481.00 408.22h0M484.07 405.64h0M487.15 402.64h0M490.23 400.20h0M493.30 395.99h0M496.38 396.63h0M499.46 394.43h0M502.53 392.12h0M505.61 392.89h0M508.69 392.87h0M511.76 390.18h0M514.84 390.76h0M517.92 387.94h0M520.99 387.99h0M524.07 387.27h0M527.15 388.86h0M530.22 387.13h0M533.30 386.31h0M536.38 385.31h0M539.45 386.68h0M542.53 387.75h0M545.61 387.19h0M548.68 385.75h0M551.76 385.59h0M554.84 386.22h0M557.92 386.47h0M560.99 387.52h0M564.07 385.73h0M567.15 384.25h0M570.22 386.15h0M573.30 386.65h0M576.38 386.19h0M579.45 388.54h0M582.53 389.85h0M585.61 387.29h0M588.68 388.49h0M591.76 390.68h0M594.84 389.62h0M597.91 390.88h0M600.99 392.34h0M604.07 392.12h0M607.14 394.62h0M610.22 393.11h0M613.30 393.98h0M616.37 395.29h0M619.45 397.74h0M622.53 400.71h0M625.60 402.32h0M628.68 406.17h0M631.76 407.26h0M634.83 408.73h0M637.91 411.01h0M640.99 415.66h0M644.06 419.46h0M647.14 424.98h0M650.22 426.43h0M653.29 430.09h0M656.37 433.63h0M659.45 437.55h0M662.52 442.92h0M665.60 446.70h0M668.68 450.76h0M671.75 450.99h0" stroke="#e0e000" stroke-width="1.9" stroke-linecap="round" fill="none"/>
<rect x="441.00" y="341.60" width="239.05" height="131.85" fill="none" stroke="#6e6e6e" stroke-width="1.5"/>
<text x="441.00" y="480.35" font-size="6" fill="#505050" text-anchor="middle">0</text>
<text x="469.12" y="480.35" font-size="6" fill="#505050" text-anchor="middle">200</text>
<text x="497.25" y="480.35" font-size="6" fill="#505050" text-anchor="middle">400</text>
<text x="525.37" y="480.35" font-size="6" fill="#505050" text-anchor="middle">600</text>
<text x="553.49" y="480.35" font-size="6" fill="#505050" text-anchor="middle">800</text>
<text x="581.62" y="480.35" font-size="6" fill="#505050" text-anchor="middle">1000</text>
<text x="609.74" y="480.35" font-size="6" fill="#505050" text-anchor="middle">1200</text>
<text x="637.86" y="480.35" font-size="6" fill="#505050" text-anchor="middle">1400</text>
<text x="665.99" y="480.35" font-size="6" fill="#505050" text-anchor="middle">1600</text>
<text x="438.90" y="475.15" font-size="6.2" fill="#505050" text-anchor="end">40</text>
<text x="438.90" y="450.73" font-size="6.2" fill="#505050" text-anchor="end">45</text>
<text x="438.90" y="426.32" font-size="6.2" fill="#505050" text-anchor="end">50</text>
<text x="438.90" y="401.90" font-size="6.2" fill="#505050" text-anchor="end">55</text>
<text x="438.90" y="377.48" font-size="6.2" fill="#505050" text-anchor="end">60</text>
<text x="438.90" y="353.07" font-size="6.2" fill="#505050" text-anchor="end">65</text>
<path d="M441.00 473.45v-2M441.00 341.60v2M469.12 473.45v-2M469.12 341.60v2M497.25 473.45v-2M497.25 341.60v2M525.37 473.45v-2M525.37 341.60v2M553.49 473.45v-2M553.49 341.60v2M581.62 473.45v-2M581.62 341.60v2M609.74 473.45v-2M609.74 341.60v2M637.86 473.45v-2M637.86 341.60v2M665.99 473.45v-2M665.99 341.60v2M441.00 473.45h2M680.05 473.45h-2M441.00 449.03h2M680.05 449.03h-2M441.00 424.62h2M680.05 424.62h-2M441.00 400.20h2M680.05 400.20h-2M441.00 375.78h2M680.05 375.78h-2M441.00 351.37h2M680.05 351.37h-2" stroke="#5e5e5e" stroke-width="1" fill="none"/>
<text x="560.02" y="488.05" font-size="7" stroke="#222" stroke-width="0.12" text-anchor="middle" textLength="74" lengthAdjust="spacingAndGlyphs">Contour of Width Center(um)</text>
<text transform="translate(431.70 407.52) rotate(-90)" font-size="6.4" stroke="#000" stroke-width="0.2" text-anchor="middle" textLength="36" lengthAdjust="spacingAndGlyphs">Thickness(um)</text>
<rect x="627.60" y="343.50" width="51.65" height="35.40" fill="#fff" stroke="#6a6a6a" stroke-width="1"/>
<line x1="628.60" y1="347.20" x2="635.10" y2="347.20" stroke="#00ffff" stroke-width="2.2"/>
<text x="636.10" y="349.60" font-size="6.8" fill="#1a1a1a" stroke="#1a1a1a" stroke-width="0.12" textLength="13.10" lengthAdjust="spacingAndGlyphs">GFM</text>
<line x1="628.60" y1="354.15" x2="635.10" y2="354.15" stroke="#ff0000" stroke-width="2.2"/>
<text x="636.10" y="356.55" font-size="6.8" fill="#1a1a1a" stroke="#1a1a1a" stroke-width="0.12" textLength="35.85" lengthAdjust="spacingAndGlyphs">SGFM(0~100)</text>
<line x1="628.60" y1="361.10" x2="635.10" y2="361.10" stroke="#00ff00" stroke-width="2.2"/>
<text x="636.10" y="363.50" font-size="6.8" fill="#1a1a1a" stroke="#1a1a1a" stroke-width="0.12" textLength="41.67" lengthAdjust="spacingAndGlyphs">SGFM(100~112)</text>
<line x1="628.60" y1="368.05" x2="635.10" y2="368.05" stroke="#0000ff" stroke-width="2.2"/>
<text x="636.10" y="370.45" font-size="6.8" fill="#1a1a1a" stroke="#1a1a1a" stroke-width="0.12" textLength="41.67" lengthAdjust="spacingAndGlyphs">SGFM(112~150)</text>
<circle cx="631.80" cy="375.00" r="1" fill="#e8e800"/>
<text x="636.10" y="377.40" font-size="6.8" fill="#1a1a1a" stroke="#1a1a1a" stroke-width="0.12" textLength="33.07" lengthAdjust="spacingAndGlyphs">Original Data</text></g>
<text x="2.9" y="500.00" font-size="23" stroke="#000" stroke-width="0.35">(d)</text>
<clipPath id="cp3"><rect x="35.30" y="502.30" width="170.80" height="125.10" rx="14.0"/></clipPath><rect x="32.00" y="498.90" width="176.80" height="132.00" fill="#000"/>
<g filter="url(#gsoft)"><g clip-path="url(#cp3)">
<rect x="35.30" y="502.30" width="170.80" height="125.10" fill="url(#gfill)"/>
<rect x="35.30" y="502.30" width="170.80" height="125.10" fill="#808080" filter="url(#noise1)" opacity="0.17"/>
<rect x="35.30" y="502.30" width="170.80" height="125.10" rx="14.0" fill="none" stroke="#c8c8c8" stroke-width="12" filter="url(#blur3)" opacity="0.45"/>
<rect x="35.30" y="502.30" width="170.80" height="125.10" rx="14.0" fill="none" stroke="#fff" stroke-width="14" filter="url(#rimf1)" opacity="0.6"/>
<rect x="35.30" y="502.30" width="170.80" height="125.10" rx="14.0" fill="none" stroke="#000" stroke-width="2.4" filter="url(#blur1)" opacity="0.8"/>
</g></g>
<g filter="url(#pblur)"><clipPath id="rcd"><rect x="229.00" y="491.00" width="187.60" height="140.00"/></clipPath>
<rect x="229.00" y="491.00" width="187.60" height="140.00" fill="#ff0000"/>
<g clip-path="url(#rcd)">
<ellipse cx="320.50" cy="557.00" rx="81.20" ry="69.80" fill="#00ff00"/>
<ellipse cx="321.50" cy="559.30" rx="57.70" ry="47.50" fill="#0000ff"/>
</g></g>
<g filter="url(#pblur)"><polyline points="441.15,599.86 442.56,598.11 443.97,596.38 445.38,594.67 446.79,592.99 448.20,591.32 449.60,589.68 451.01,588.06 452.42,586.46 453.83,584.88 455.24,583.32 456.65,581.79 458.06,580.27 459.47,578.78 460.88,577.31 462.29,575.86 463.70,574.43 465.10,573.02 466.51,571.64 467.92,570.27 469.33,568.93 470.74,567.61 472.15,566.31 473.56,565.03 474.97,563.78 476.38,562.54 477.79,561.33 479.20,560.14 480.61,558.97 482.01,557.82 483.42,556.69 484.83,555.58 486.24,554.50 487.65,553.43 489.06,552.39 490.47,551.37 491.88,550.37 493.29,549.40 494.70,548.44 496.11,547.51 497.51,546.59 498.92,545.70 500.33,544.83 501.74,543.98 503.15,543.16 504.56,542.35 505.97,541.57 507.38,540.80 508.79,540.06 510.20,539.34 511.61,538.65 513.01,537.97 514.42,537.31 515.83,536.68 517.24,536.07 518.65,535.48 520.06,534.91 521.47,534.36 522.88,533.83 524.29,533.33 525.70,532.85 527.11,532.38 528.52,531.94 529.92,531.52 531.33,531.13 532.74,530.75 534.15,530.40 535.56,530.06 536.97,529.75 538.38,529.46 539.79,529.19 541.20,528.95 542.61,528.72 544.02,528.52 545.42,528.34 546.83,528.17 548.24,528.03 549.65,527.92 551.06,527.82 552.47,527.74 553.88,527.69 555.29,527.66 556.70,527.65 558.11,527.66 559.52,527.69 560.93,527.74 562.33,527.82 563.74,527.92 565.15,528.03 566.56,528.17 567.97,528.34 569.38,528.52 570.79,528.72 572.20,528.95 573.61,529.19 575.02,529.46 576.43,529.75 577.83,530.06 579.24,530.40 580.65,530.75 582.06,531.13 583.47,531.52 584.88,531.94 586.29,532.38 587.70,532.85 589.11,533.33 590.52,533.83 591.93,534.36 593.33,534.91 594.74,535.48 596.15,536.07 597.56,536.68 598.97,537.31 600.38,537.97 601.79,538.65 603.20,539.34 604.61,540.06 606.02,540.80 607.43,541.57 608.84,542.35 610.24,543.16 611.65,543.98 613.06,544.83 614.47,545.70 615.88,546.59 617.29,547.51 618.70,548.44 620.11,549.40 621.52,550.37 622.93,551.37 624.34,552.39 625.74,553.43 627.15,554.50 628.56,555.58 629.97,556.69 631.38,557.82 632.79,558.97 634.20,560.14 635.61,561.33 637.02,562.54 638.43,563.78 639.84,565.03 641.24,566.31 642.65,567.61 644.06,568.93 645.47,570.27 646.88,571.64 648.29,573.02 649.70,574.43 651.11,575.86 652.52,577.31 653.93,578.78 655.34,580.27 656.75,581.79 658.15,583.32 659.56,584.88 660.97,586.46 662.38,588.06 663.79,589.68 665.20,591.32 666.61,592.99 668.02,594.67 669.43,596.38 670.84,598.11 672.25,599.86 673.65,601.63" fill="none" stroke="#00ffff" stroke-width="2.8"/>
<polyline points="441.15,602.50 442.59,600.10 444.03,597.73 445.47,595.39 446.91,593.08 448.35,590.80 449.79,588.56 451.23,586.35 452.67,584.17 454.11,582.03" fill="none" stroke="#ff0000" stroke-width="2.8"/>
<polyline points="454.11,582.03 455.52,580.48 456.93,578.94 458.34,577.42 459.75,575.91 461.16,574.41 462.57,572.92 463.98,571.45 465.39,569.99 466.80,568.54 468.21,567.10 469.61,565.67 471.02,564.26 472.43,562.86 473.84,561.47 475.25,560.09 476.66,558.73 478.07,557.37 479.48,556.03 480.89,554.71 482.30,553.39 483.71,552.09" fill="none" stroke="#00ff00" stroke-width="2.8"/>
<polyline points="483.71,552.09 485.11,551.25 486.52,550.43 487.93,549.62 489.34,548.83 490.75,548.06 492.16,547.31 493.57,546.57 494.98,545.84 496.39,545.14 497.80,544.45 499.21,543.77 500.61,543.12 502.02,542.47 503.43,541.85 504.84,541.24 506.25,540.65 507.66,540.08 509.07,539.52 510.48,538.97 511.89,538.45 513.30,537.94 514.71,537.45 516.12,536.97 517.52,536.51 518.93,536.07 520.34,535.64 521.75,535.23 523.16,534.83 524.57,534.45 525.98,534.09 527.39,533.75 528.80,533.42 530.21,533.11 531.62,532.81 533.02,532.53 534.43,532.27 535.84,532.02 537.25,531.79 538.66,531.58 540.07,531.38 541.48,531.20 542.89,531.03 544.30,530.89 545.71,530.75 547.12,530.64 548.52,530.54 549.93,530.46 551.34,530.39 552.75,530.34 554.16,530.31 555.57,530.29 556.98,530.29 558.39,530.31 559.80,530.34 561.21,530.39 562.62,530.45 564.03,530.54 565.43,530.63 566.84,530.75 568.25,530.88 569.66,531.03 571.07,531.19 572.48,531.37 573.89,531.57 575.30,531.78 576.71,532.01 578.12,532.25 579.53,532.52 580.93,532.80 582.34,533.09 583.75,533.40 585.16,533.73 586.57,534.08 587.98,534.44 589.39,534.81 590.80,535.21 592.21,535.62 593.62,536.04 595.03,536.49 596.43,536.95 597.84,537.42 599.25,537.91 600.66,538.42 602.07,538.95 603.48,539.49 604.89,540.05 606.30,540.62 607.71,541.21 609.12,541.82 610.53,542.44 611.94,543.08 613.34,543.74 614.75,544.41 616.16,545.10 617.57,545.81 618.98,546.53 620.39,547.27 621.80,548.02 623.21,548.79 624.62,549.58 626.03,550.38 627.44,551.21" fill="none" stroke="#0000ff" stroke-width="2.8"/>
<polyline points="627.44,551.21 628.89,552.38 630.35,553.58 631.81,554.80 633.27,556.03 634.73,557.28 636.19,558.55 637.64,559.84 639.10,561.15 640.56,562.48 642.02,563.82 643.48,565.18 644.94,566.57 646.40,567.97 647.85,569.38 649.31,570.82 650.77,572.28 652.23,573.75 653.69,575.24 655.15,576.76 656.60,578.29" fill="none" stroke="#00ff00" stroke-width="2.8"/>
<polyline points="656.60,578.29 658.12,580.32 659.63,582.41 661.14,584.56 662.65,586.76 664.16,589.03 665.67,591.35 667.19,593.73 668.70,596.17 670.21,598.66 671.72,601.21 673.23,603.83" fill="none" stroke="#ff0000" stroke-width="2.8"/>
<polyline points="441.15,591.50 442.70,593.23 444.24,593.50 445.79,593.74 447.34,592.68 448.89,588.49 450.43,587.98 451.98,585.85 453.53,582.83 455.07,579.39 456.62,576.88 458.17,577.75 459.72,574.51 461.26,572.09 462.81,572.37 464.36,569.54 465.91,569.02 467.45,568.92 469.00,565.85 470.55,566.18 472.09,562.70 473.64,561.79 475.19,557.56 476.74,557.42 478.28,556.04 479.83,553.60 481.38,554.46 482.92,552.69 484.47,551.76 486.02,550.27 487.57,550.74 489.11,549.51 490.66,548.22 492.21,547.77 493.76,546.89 495.30,544.73 496.85,544.35 498.40,545.31 499.94,545.29 501.49,544.73 503.04,544.13 504.59,541.70 506.13,541.34 507.68,539.84 509.23,538.47 510.77,538.49 512.32,539.25 513.87,540.07 515.42,537.63 516.96,537.34 518.51,538.24 520.06,538.32 521.60,538.09 523.15,536.99 524.70,536.09 526.25,532.93 527.79,533.60 529.34,533.62 530.89,533.96 532.44,534.10 533.98,534.55 535.53,532.34 537.08,532.69 538.62,533.58 540.17,532.80 541.72,534.61 543.27,532.40 544.81,531.49 546.36,532.32 547.91,531.07 549.45,531.11 551.00,532.15 552.55,530.04 554.10,531.67 555.64,532.57 557.19,532.75 558.74,533.36 560.29,531.62 561.83,530.60 563.38,532.43 564.93,532.81 566.47,533.59 568.02,532.18 569.57,532.19 571.12,532.06 572.66,532.46 574.21,535.47 575.76,535.33 577.30,535.97 578.85,534.52 580.40,535.89 581.95,535.83 583.49,537.25 585.04,536.82 586.59,536.41 588.14,537.18 589.68,538.45 591.23,538.67 592.78,538.64 594.32,538.47 595.87,539.77 597.42,540.05 598.97,540.19 600.51,540.65 602.06,540.58 603.61,542.08 605.15,543.14 606.70,543.01 608.25,542.27 609.80,544.36 611.34,544.11 612.89,542.40 614.44,543.90 615.98,545.62 617.53,546.65 619.08,546.59 620.63,546.94 622.17,547.78 623.72,548.28 625.27,550.20 626.82,551.69 628.36,551.42 629.91,553.76 631.46,552.92 633.00,554.61 634.55,555.37 636.10,557.04 637.65,558.96 639.19,559.24 640.74,560.49 642.29,562.08 643.83,564.68 645.38,567.54 646.93,566.83 648.48,567.49 650.02,570.26 651.57,571.91 653.12,573.35 654.67,576.97 656.21,576.67 657.76,578.92 659.31,580.67 660.85,584.59 662.40,585.19 663.95,588.23 665.50,590.01 667.04,591.70 668.59,593.15 670.14,594.79 671.68,594.29 673.23,591.94" fill="none" stroke="#a0a000" stroke-width="1.8" stroke-linejoin="round" opacity="0.45"/>
<polyline points="441.15,591.50 442.70,593.23 444.24,593.50 445.79,593.74 447.34,592.68 448.89,588.49 450.43,587.98 451.98,585.85 453.53,582.83 455.07,579.39 456.62,576.88 458.17,577.75 459.72,574.51 461.26,572.09 462.81,572.37 464.36,569.54 465.91,569.02 467.45,568.92 469.00,565.85 470.55,566.18 472.09,562.70 473.64,561.79 475.19,557.56 476.74,557.42 478.28,556.04 479.83,553.60 481.38,554.46 482.92,552.69 484.47,551.76 486.02,550.27 487.57,550.74 489.11,549.51 490.66,548.22 492.21,547.77 493.76,546.89 495.30,544.73 496.85,544.35 498.40,545.31 499.94,545.29 501.49,544.73 503.04,544.13 504.59,541.70 506.13,541.34 507.68,539.84 509.23,538.47 510.77,538.49 512.32,539.25 513.87,540.07 515.42,537.63 516.96,537.34 518.51,538.24 520.06,538.32 521.60,538.09 523.15,536.99 524.70,536.09 526.25,532.93 527.79,533.60 529.34,533.62 530.89,533.96 532.44,534.10 533.98,534.55 535.53,532.34 537.08,532.69 538.62,533.58 540.17,532.80 541.72,534.61 543.27,532.40 544.81,531.49 546.36,532.32 547.91,531.07 549.45,531.11 551.00,532.15 552.55,530.04 554.10,531.67 555.64,532.57 557.19,532.75 558.74,533.36 560.29,531.62 561.83,530.60 563.38,532.43 564.93,532.81 566.47,533.59 568.02,532.18 569.57,532.19 571.12,532.06 572.66,532.46 574.21,535.47 575.76,535.33 577.30,535.97 578.85,534.52 580.40,535.89 581.95,535.83 583.49,537.25 585.04,536.82 586.59,536.41 588.14,537.18 589.68,538.45 591.23,538.67 592.78,538.64 594.32,538.47 595.87,539.77 597.42,540.05 598.97,540.19 600.51,540.65 602.06,540.58 603.61,542.08 605.15,543.14 606.70,543.01 608.25,542.27 609.80,544.36 611.34,544.11 612.89,542.40 614.44,543.90 615.98,545.62 617.53,546.65 619.08,546.59 620.63,546.94 622.17,547.78 623.72,548.28 625.27,550.20 626.82,551.69 628.36,551.42 629.91,553.76 631.46,552.92 633.00,554.61 634.55,555.37 636.10,557.04 637.65,558.96 639.19,559.24 640.74,560.49 642.29,562.08 643.83,564.68 645.38,567.54 646.93,566.83 648.48,567.49 650.02,570.26 651.57,571.91 653.12,573.35 654.67,576.97 656.21,576.67 657.76,578.92 659.31,580.67 660.85,584.59 662.40,585.19 663.95,588.23 665.50,590.01 667.04,591.70 668.59,593.15 670.14,594.79 671.68,594.29 673.23,591.94" fill="none" stroke="#e8e800" stroke-width="1.1" stroke-linejoin="round"/>
<path d="M441.15 591.50h0M444.24 593.50h0M447.34 592.68h0M450.43 587.98h0M453.53 582.83h0M456.62 576.88h0M459.72 574.51h0M462.81 572.37h0M465.91 569.02h0M469.00 565.85h0M472.09 562.70h0M475.19 557.56h0M478.28 556.04h0M481.38 554.46h0M484.47 551.76h0M487.57 550.74h0M490.66 548.22h0M493.76 546.89h0M496.85 544.35h0M499.94 545.29h0M503.04 544.13h0M506.13 541.34h0M509.23 538.47h0M512.32 539.25h0M515.42 537.63h0M518.51 538.24h0M521.60 538.09h0M524.70 536.09h0M527.79 533.60h0M530.89 533.96h0M533.98 534.55h0M537.08 532.69h0M540.17 532.80h0M543.27 532.40h0M546.36 532.32h0M549.45 531.11h0M552.55 530.04h0M555.64 532.57h0M558.74 533.36h0M561.83 530.60h0M564.93 532.81h0M568.02 532.18h0M571.12 532.06h0M574.21 535.47h0M577.30 535.97h0M580.40 535.89h0M583.49 537.25h0M586.59 536.41h0M589.68 538.45h0M592.78 538.64h0M595.87 539.77h0M598.97 540.19h0M602.06 540.58h0M605.15 543.14h0M608.25 542.27h0M611.34 544.11h0M614.44 543.90h0M617.53 546.65h0M620.63 546.94h0M623.72 548.28h0M626.82 551.69h0M629.91 553.76h0M633.00 554.61h0M636.10 557.04h0M639.19 559.24h0M642.29 562.08h0M645.38 567.54h0M648.48 567.49h0M651.57 571.91h0M654.67 576.97h0M657.76 578.92h0M660.85 584.59h0M663.95 588.23h0M667.04 591.70h0M670.14 594.79h0M673.23 591.94h0" stroke="#e0e000" stroke-width="1.9" stroke-linecap="round" fill="none"/>
<rect x="441.15" y="491.10" width="239.55" height="132.10" fill="none" stroke="#6e6e6e" stroke-width="1.5"/>
<text x="441.15" y="630.10" font-size="6" fill="#505050" text-anchor="middle">0</text>
<text x="469.33" y="630.10" font-size="6" fill="#505050" text-anchor="middle">200</text>
<text x="497.51" y="630.10" font-size="6" fill="#505050" text-anchor="middle">400</text>
<text x="525.70" y="630.10" font-size="6" fill="#505050" text-anchor="middle">600</text>
<text x="553.88" y="630.10" font-size="6" fill="#505050" text-anchor="middle">800</text>
<text x="582.06" y="630.10" font-size="6" fill="#505050" text-anchor="middle">1000</text>
<text x="610.24" y="630.10" font-size="6" fill="#505050" text-anchor="middle">1200</text>
<text x="638.43" y="630.10" font-size="6" fill="#505050" text-anchor="middle">1400</text>
<text x="666.61" y="630.10" font-size="6" fill="#505050" text-anchor="middle">1600</text>
<text x="439.05" y="624.90" font-size="6.2" fill="#505050" text-anchor="end">35</text>
<text x="439.05" y="602.88" font-size="6.2" fill="#505050" text-anchor="end">40</text>
<text x="439.05" y="580.87" font-size="6.2" fill="#505050" text-anchor="end">45</text>
<text x="439.05" y="558.85" font-size="6.2" fill="#505050" text-anchor="end">50</text>
<text x="439.05" y="536.83" font-size="6.2" fill="#505050" text-anchor="end">55</text>
<text x="439.05" y="514.82" font-size="6.2" fill="#505050" text-anchor="end">60</text>
<text x="439.05" y="492.80" font-size="6.2" fill="#505050" text-anchor="end">65</text>
<path d="M441.15 623.20v-2M441.15 491.10v2M469.33 623.20v-2M469.33 491.10v2M497.51 623.20v-2M497.51 491.10v2M525.70 623.20v-2M525.70 491.10v2M553.88 623.20v-2M553.88 491.10v2M582.06 623.20v-2M582.06 491.10v2M610.24 623.20v-2M610.24 491.10v2M638.43 623.20v-2M638.43 491.10v2M666.61 623.20v-2M666.61 491.10v2M441.15 623.20h2M680.70 623.20h-2M441.15 601.18h2M680.70 601.18h-2M441.15 579.17h2M680.70 579.17h-2M441.15 557.15h2M680.70 557.15h-2M441.15 535.13h2M680.70 535.13h-2M441.15 513.12h2M680.70 513.12h-2M441.15 491.10h2M680.70 491.10h-2" stroke="#5e5e5e" stroke-width="1" fill="none"/>
<text x="560.42" y="637.80" font-size="7" stroke="#222" stroke-width="0.12" text-anchor="middle" textLength="74" lengthAdjust="spacingAndGlyphs">Contour of Width Center(um)</text>
<text transform="translate(431.70 557.15) rotate(-90)" font-size="6.4" stroke="#000" stroke-width="0.2" text-anchor="middle" textLength="36" lengthAdjust="spacingAndGlyphs">Thickness(um)</text>
<rect x="627.60" y="493.00" width="52.30" height="35.40" fill="#fff" stroke="#6a6a6a" stroke-width="1"/>
<line x1="628.60" y1="496.70" x2="635.10" y2="496.70" stroke="#00ffff" stroke-width="2.2"/>
<text x="636.10" y="499.10" font-size="6.8" fill="#1a1a1a" stroke="#1a1a1a" stroke-width="0.12" textLength="13.10" lengthAdjust="spacingAndGlyphs">GFM</text>
<line x1="628.60" y1="503.65" x2="635.10" y2="503.65" stroke="#ff0000" stroke-width="2.2"/>
<text x="636.10" y="506.05" font-size="6.8" fill="#1a1a1a" stroke="#1a1a1a" stroke-width="0.12" textLength="32.83" lengthAdjust="spacingAndGlyphs">SGFM(0~90)</text>
<line x1="628.60" y1="510.60" x2="635.10" y2="510.60" stroke="#00ff00" stroke-width="2.2"/>
<text x="636.10" y="513.00" font-size="6.8" fill="#1a1a1a" stroke="#1a1a1a" stroke-width="0.12" textLength="38.87" lengthAdjust="spacingAndGlyphs">SGFM(90~100)</text>
<line x1="628.60" y1="517.55" x2="635.10" y2="517.55" stroke="#0000ff" stroke-width="2.2"/>
<text x="636.10" y="519.95" font-size="6.8" fill="#1a1a1a" stroke="#1a1a1a" stroke-width="0.12" textLength="41.90" lengthAdjust="spacingAndGlyphs">SGFM(100~150)</text>
<circle cx="631.80" cy="524.50" r="1" fill="#e8e800"/>
<text x="636.10" y="526.90" font-size="6.8" fill="#1a1a1a" stroke="#1a1a1a" stroke-width="0.12" textLength="33.07" lengthAdjust="spacingAndGlyphs">Original Data</text></g>
<circle cx="131.8" cy="427.8" r="1.3" fill="#4a4a4a" opacity="0.75" filter="url(#soft)"/>
<circle cx="62.2" cy="348.4" r="1.2" fill="#4a4a4a" opacity="0.75" filter="url(#soft)"/>
<circle cx="126.6" cy="217.4" r="1.0" fill="#4a4a4a" opacity="0.75" filter="url(#soft)"/>
<circle cx="133.4" cy="249.3" r="1.0" fill="#4a4a4a" opacity="0.75" filter="url(#soft)"/>
<circle cx="149.6" cy="262.8" r="0.9" fill="#4a4a4a" opacity="0.75" filter="url(#soft)"/>
<circle cx="68.5" cy="605.8" r="1.3" fill="#4a4a4a" opacity="0.75" filter="url(#soft)"/>
<circle cx="95.6" cy="515.3" r="0.9" fill="#4a4a4a" opacity="0.75" filter="url(#soft)"/>
<text x="236.4" y="36.2" font-size="18" stroke="#000" stroke-width="0.3">A</text>
<text x="264.0" y="55.9" font-size="18" stroke="#000" stroke-width="0.3">B</text>
<text x="306.8" y="81.7" font-size="18" stroke="#000" stroke-width="0.3">C</text>
</svg>
</body></html>
